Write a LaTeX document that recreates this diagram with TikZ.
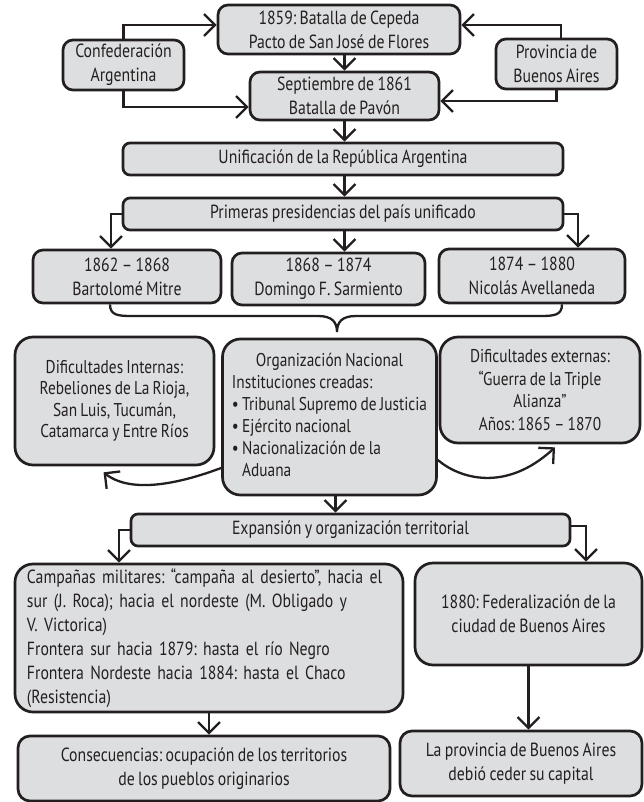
\documentclass[tikz,border=0pt]{standalone}
\usepackage{fontspec}
\setmainfont{PT Sans}[FakeStretch=0.83,WordSpace=0.8]
\usepackage{tikz}
\usetikzlibrary{arrows.meta}
\frenchspacing

\definecolor{cajagris}{RGB}{221,222,224}
\definecolor{tinta}{RGB}{35,31,32}

\tikzset{
  caja/.style={draw=tinta, fill=cajagris, line width=2.7pt, rounded corners=10pt,
    inner sep=0pt, align=center, text=tinta, font=\fontsize{19}{24}\selectfont},
  cajagrande/.style={caja, rounded corners=18pt},
  flecha/.style={draw=tinta, line width=2.3pt,
    -{Straight Barb[length=11pt,width=22pt]}},
  linea/.style={draw=tinta, line width=2.3pt},
}

\begin{document}
\begin{tikzpicture}[x=1pt,y=-1pt]
        \useasboundingbox (0,0) rectangle (644,802);

        % Cepeda y Pavon
        \node[caja, minimum width=242pt, minimum height=49pt] (pacto) at (339,29.5) {1859: Batalla de Cepeda\\Pacto de San José de Flores};
        \node[caja, minimum width=121pt, minimum height=50pt] (conf) at (123.5,65) {Confederación\\Argentina};
        \node[caja, minimum width=121pt, minimum height=50pt] (prov) at (556.5,64) {Provincia de\\Buenos Aires};
        \node[caja, minimum width=189pt, minimum height=48pt] (pavon) at (344.5,96) {Septiembre de 1861\\Batalla de Pavón};

        % Unificacion y presidencias
        \node[caja, minimum width=440pt, minimum height=32pt, rounded corners=7pt] (unif) at (343,159) {Unificación de la República Argentina};
        \node[caja, minimum width=440pt, minimum height=32pt, rounded corners=7pt] (prim) at (343,214) {Primeras presidencias del país unificado};
        \node[caja, minimum width=188pt, minimum height=53pt] (mitre) at (127,276.5) {1862 – 1868\\Bartolomé Mitre};
        \node[caja, minimum width=193pt, minimum height=52pt] (sarm) at (328.5,279) {1868 – 1874\\Domingo F. Sarmiento};
        \node[caja, minimum width=186pt, minimum height=54pt] (avell) at (532,276) {1874 – 1880\\Nicolás Avellaneda};

        % Organizacion nacional
        \node[cajagrande, minimum width=199pt, minimum height=128pt, font=\fontsize{18.5}{21.5}\selectfont] (dint) at (114.5,401) {Dificultades Internas:\\Rebeliones de La Rioja,\\San Luis, Tucumán,\\Catamarca y Entre Ríos};
        \node[cajagrande, minimum width=214pt, minimum height=156pt, font=\fontsize{18.5}{22}\selectfont] (org) at (329.5,417) {\begin{tabular}{@{}l@{}}\multicolumn{1}{@{}c@{}}{Organización Nacional}\\Instituciones creadas:\\• Tribunal Supremo de Justicia\\• Ejército nacional\\• Nacionalización de la\\\phantom{•} Aduana\end{tabular}};
        \node[cajagrande, minimum width=200pt, minimum height=106pt, font=\fontsize{18.5}{22.5}\selectfont] (dext) at (540,390) {Dificultades externas:\\“Guerra de la Triple\\Alianza”\\Años: 1865 – 1870};

        % Expansion territorial
        \node[caja, minimum width=439pt, minimum height=32pt, rounded corners=7pt] (exp) at (350.5,530) {Expansión y organización territorial};
        \node[cajagrande, minimum width=388pt, minimum height=148pt, text width=364pt, align=left] (camp) at (209,638) {Campañas militares: “campaña al desierto”, hacia el\\sur (J. Roca); hacia el nordeste (M. Obligado y\\V. Victorica)\\Frontera sur hacia 1879: hasta el río Negro\\Frontera Nordeste hacia 1884: hasta el Chaco\\(Resistencia)};
        \node[cajagrande, minimum width=227pt, minimum height=102pt] (fed) at (528.5,614) {1880: Federalización de la\\ciudad de Buenos Aires};
        \node[caja, minimum width=372pt, minimum height=65pt, rounded corners=12pt] (cons) at (204,768.5) {Consecuencias: ocupación de los territorios\\de los pueblos originarios};
        \node[caja, minimum width=242pt, minimum height=65pt, rounded corners=12pt] (cap) at (521,763.5) {La provincia de Buenos Aires\\debió ceder su capital};

        % Flechas arriba
        \draw[flecha] (conf.north) |- ([yshift=4.5pt]pacto.west);
        \draw[flecha] (conf.south) |- ([yshift=-11pt]pavon.west);
        \draw[flecha] ([xshift=4.5pt]prov.north) |- ([yshift=4.5pt]pacto.east);
        \draw[flecha] (prov.south) |- ([yshift=-5pt]pavon.east);
        \draw[flecha] (pacto.south -| pavon) -- (pavon.north);
        \draw[flecha] (pavon.south) -- (pavon.south |- unif.north);
        \draw[flecha] (unif.south -| pavon) -- (prim.north -| pavon);

        % Flechas hacia las presidencias
        \draw[flecha] (prim.west) -| ([xshift=-16pt]mitre.north);
        \draw[flecha] (prim.east) -| ([xshift=46pt]avell.north);
        \draw[flecha] (prim.south -| pavon) -- (sarm.north -| pavon);

        % Llave
        \coordinate (llave) at (337,332);
        \draw[linea] ([xshift=-17pt]mitre.south) .. controls +(0,11) and +(-14,0) .. (132,316)
            -- (318,316) .. controls +(14,0) and +(0,-10) .. (llave)
            .. controls +(0,-10) and +(-14,0) .. (356,316)
            -- (540,316) .. controls +(14,0) and +(0,11) .. ([xshift=30pt]avell.south);

        % Flechas curvas
        \draw[flecha] ([yshift=-51pt]org.west) .. controls +(-27,10) and +(32,25) .. ([xshift=-11pt,yshift=-6pt]dint.south);
        \draw[flecha] ([yshift=-43pt]org.east) .. controls +(21,18) and +(-50,46) .. ([xshift=15pt,yshift=-3pt]dext.south);

        % Flechas abajo
        \draw[flecha] ([xshift=6pt]org.south) -- ([xshift=6pt]org.south |- exp.north);
        \draw[flecha] (exp.west) -| ([xshift=-90pt]camp.north);
        \draw[flecha] ([yshift=4pt]exp.east) -| ([xshift=57.5pt]fed.north);
        \draw[flecha] (camp.south) -- (camp.south |- cons.north);
        \draw[flecha] (fed.south) -- (fed.south |- cap.north);
\end{tikzpicture}
\end{document}
